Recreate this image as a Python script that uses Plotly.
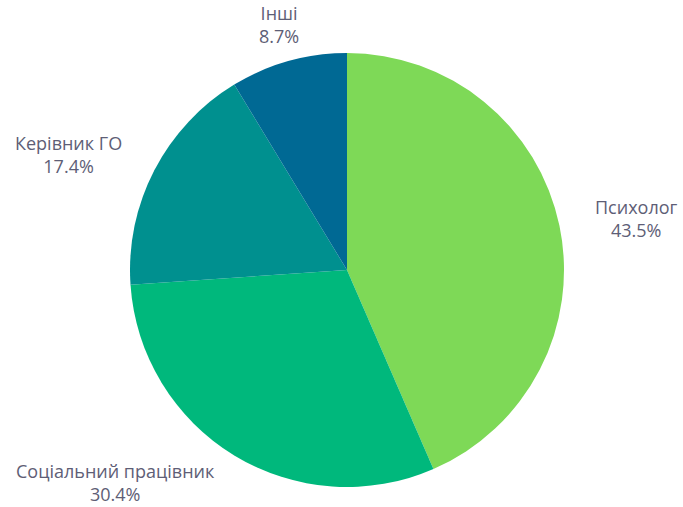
import math
import plotly.graph_objects as go

# Share of respondents by role
labels = ["Психолог", "Соціальний працівник", "Керівник ГО", "Інші"]
values = [10, 7, 4, 2]
colors = ["#7ed957", "#00b87c", "#00908f", "#006994"]

W, H = 683, 507
M = dict(l=130, r=119, t=53, b=20)          # plot area = square holding the pie
PW, PH = W - M["l"] - M["r"], H - M["t"] - M["b"]
cx, cy = M["l"] + PW / 2, M["t"] + PH / 2    # pie centre, pixels from top-left
R_LABEL = 251                                # ring on which labels sit
FONT_SIZE = 18
BLOCK_H = 49                                 # approx. height of a two-line label
PAD = 1

fig = go.Figure(go.Pie(
    labels=labels,
    values=values,
    sort=False,
    direction="clockwise",
    rotation=0,
    marker=dict(colors=colors, line=dict(width=0)),
    textinfo="none",
    hoverinfo="label+percent",
    showlegend=False,
))

# outside labels: placed on a ring along each slice's middle angle,
# anchored on the side facing the pie and kept inside the canvas
total = sum(values)
start = 0.0
annotations = []
for lab, v in zip(labels, values):
    mid = 2 * math.pi * (start + v / 2) / total
    start += v
    dx, dy = math.sin(mid), -math.cos(mid)
    x = cx + R_LABEL * dx
    y = cy + R_LABEL * dy

    xanchor = "left" if dx > 0.3 else ("right" if dx < -0.3 else "center")
    if dy < -0.5:
        yanchor = "bottom"
        y = max(y, PAD + BLOCK_H)
    elif dy > 0.5:
        yanchor = "top"
        y = min(y, H - PAD - BLOCK_H)
    else:
        yanchor = "middle"

    annotations.append(dict(
        x=(x - M["l"]) / PW,
        y=(H - M["b"] - y) / PH,
        xref="paper", yref="paper",
        xanchor=xanchor, yanchor=yanchor,
        text=f"{lab}<br>{100 * v / total:.1f}%",
        showarrow=False,
        align="center",
        font=dict(family="Open Sans", size=FONT_SIZE, color="#5e5e76"),
    ))

fig.update_layout(
    width=W,
    height=H,
    margin=M,
    paper_bgcolor="white",
    plot_bgcolor="white",
    annotations=annotations,
)

fig.write_html("out.html")
